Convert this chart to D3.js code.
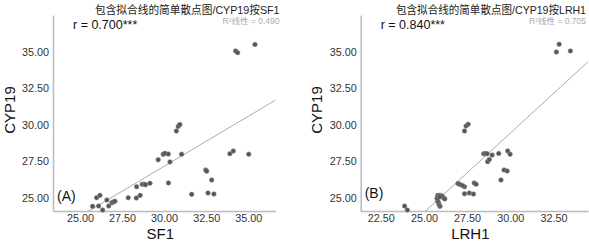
<!DOCTYPE html>
<html>
<head>
<meta charset="utf-8">
<script src="https://cdn.jsdelivr.net/npm/d3@7"></script>
<style>
  body { margin: 0; background: #fff; }
  svg { display: block; font-family: "Liberation Sans", Arial, "Noto Sans CJK SC", sans-serif; }
  .tick text { fill: #333; font-size: 10.8px; }
  .domain { stroke: #bbb; stroke-width: 1.5; }
</style>
</head>
<body>
<div id="chart"></div>
<script>
// values
const sf1X = [25.75, 25.99, 26.19, 26.11, 26.35, 26.60, 26.71, 26.90, 26.98, 27.08,
              27.87, 28.35, 28.37, 28.58, 28.70, 28.82, 28.90, 29.16, 29.65, 29.95,
              30.05, 30.25, 30.35, 30.26, 30.73, 30.84, 30.94, 31.04, 31.64, 32.47,
              32.53, 32.61, 32.83, 32.96, 33.91, 34.11, 35.03, 34.25, 34.37, 35.40];
const sf1Y = [24.41, 25.00, 25.16, 24.43, 24.16, 24.84, 24.43, 24.66, 24.71, 24.76,
              25.00, 24.98, 25.75, 25.16, 25.92, 25.92, 25.89, 25.99, 27.60, 27.97,
              28.04, 27.99, 27.45, 26.01, 29.57, 29.88, 30.01, 27.98, 25.23, 26.90,
              26.82, 25.32, 26.21, 25.25, 28.01, 28.20, 27.98, 35.05, 34.93, 35.49];

const lrh1X = [23.88, 24.04, 25.93, 25.87, 25.83, 25.80, 25.76, 26.13, 26.21, 25.80,
               25.93, 26.05, 25.90, 26.97, 27.07, 27.35, 27.35, 27.63, 27.87, 27.91,
               28.02, 27.23, 27.35, 27.44, 27.56, 28.46, 28.56, 28.66, 28.95, 28.69,
               28.79, 29.33, 29.46, 29.64, 29.82, 29.85, 29.99, 32.67, 32.83, 33.48];
const lrh1Y = [24.43, 24.16, 24.41, 24.55, 24.69, 24.78, 24.96, 25.00, 24.92, 25.16,
               25.16, 25.12, 25.05, 25.97, 25.92, 25.75, 25.27, 25.32, 25.25, 26.01,
               25.92, 25.84, 29.57, 29.91, 30.03, 28.01, 28.03, 28.01, 27.92, 27.47,
               27.62, 28.03, 26.21, 26.90, 26.83, 28.20, 27.98, 34.98, 35.51, 35.05];

// fitted lines as shown (y = intercept + slope * x)
const fitSlope = [0.685, 1.086];
const fitIntercept = [6.60, -3.16];

const yTicks = [25, 27.5, 30, 32.5, 35];
const sf1Ticks = [25, 27.5, 30, 32.5, 35];
const lrh1Ticks = [22.5, 25, 27.5, 30, 32.5];

const panels = [
    { xs: sf1X, ys: sf1Y, ticks: sf1Ticks, xLabel: "SF1", tag: "(A)", r: "r = 0.700***", r2: "0.490",
      title: "包含拟合线的简单散点图/CYP19按SF1", xDomain: [23.4, 36.62], left: 53, right: 275.5,
      textRight: 279.5, titleLeft: 95, yLabelX: 15, tagY: 201 },
    { xs: lrh1X, ys: lrh1Y, ticks: lrh1Ticks, xLabel: "LRH1", tag: "(B)", r: "r = 0.840***", r2: "0.705",
      title: "包含拟合线的简单散点图/CYP19按LRH1", xDomain: [21.34, 34.5], left: 360.7, right: 588,
      textRight: 586, titleLeft: 396, yLabelX: 322, tagY: 198 }
];

const width = 589, height = 242;
const plotTop = 15, plotBottom = 211;

const svg = d3.select("#chart").append("svg")
    .attr("width", width)
    .attr("height", height);

const y = d3.scaleLinear().domain([24.09, 37.51]).range([plotBottom, plotTop]);
const fmt = d3.format(".2f");

panels.forEach((p, k) => {
    const x = d3.scaleLinear().domain(p.xDomain).range([p.left, p.right]);
    const g = svg.append("g");

    g.append("clipPath").attr("id", "clip" + k)
        .append("rect")
        .attr("x", p.left).attr("y", plotTop)
        .attr("width", p.right - p.left).attr("height", plotBottom - plotTop);

    const fy = v => fitIntercept[k] + fitSlope[k] * v;
    g.append("line")
        .attr("clip-path", `url(#clip${k})`)
        .attr("x1", x(p.xDomain[0])).attr("y1", y(fy(p.xDomain[0])))
        .attr("x2", x(p.xDomain[1])).attr("y2", y(fy(p.xDomain[1])))
        .attr("stroke", "#aaa")
        .attr("stroke-width", 1);

    g.append("g")
        .attr("transform", `translate(${p.left},0)`)
        .call(d3.axisLeft(y).tickValues(yTicks).tickFormat(fmt).tickSize(0).tickSizeOuter(0).tickPadding(4))
        .call(a => a.selectAll(".tick line").remove());

    g.append("g")
        .attr("transform", `translate(0,${plotBottom})`)
        .call(d3.axisBottom(x).tickValues(p.ticks).tickFormat(fmt).tickSize(0).tickSizeOuter(0).tickPadding(3))
        .call(a => a.selectAll(".tick line").remove());

    g.selectAll("circle")
        .data(p.xs.map((v, i) => [v, p.ys[i]]))
        .enter()
        .append("circle")
        .attr("cx", d => x(d[0]))
        .attr("cy", d => y(d[1]))
        .attr("r", 2.3)
        .attr("fill", "#555")
        .attr("stroke", "#888")
        .attr("stroke-width", 0.6);

    // title keeps its height but is squeezed to the original width
    g.append("text")
        .attr("x", p.textRight)
        .attr("y", 14)
        .attr("text-anchor", "end")
        .attr("font-size", 11.2)
        .attr("fill", "#222")
        .attr("textLength", p.textRight - p.titleLeft)
        .attr("lengthAdjust", "spacingAndGlyphs")
        .text(p.title);

    g.append("text")
        .attr("x", p.textRight)
        .attr("y", 24)
        .attr("text-anchor", "end")
        .attr("font-size", 8.5)
        .attr("fill", "#aaa")
        .text("R²线性 = " + p.r2);

    g.append("text")
        .attr("x", p.left + 20)
        .attr("y", 29)
        .attr("font-size", 12.5)
        .attr("fill", "#111")
        .text(p.r);

    g.append("text")
        .attr("x", p.left + 4)
        .attr("y", p.tagY)
        .attr("font-size", 14)
        .attr("fill", "#111")
        .text(p.tag);

    g.append("text")
        .attr("x", (p.left + p.right) / 2 - 4)
        .attr("y", 239)
        .attr("text-anchor", "middle")
        .attr("font-size", 15)
        .attr("fill", "#111")
        .text(p.xLabel);

    g.append("text")
        .attr("transform", `translate(${p.yLabelX},${110}) rotate(-90)`)
        .attr("text-anchor", "middle")
        .attr("font-size", 15)
        .attr("fill", "#111")
        .text("CYP19");
});
</script>
</body>
</html>
